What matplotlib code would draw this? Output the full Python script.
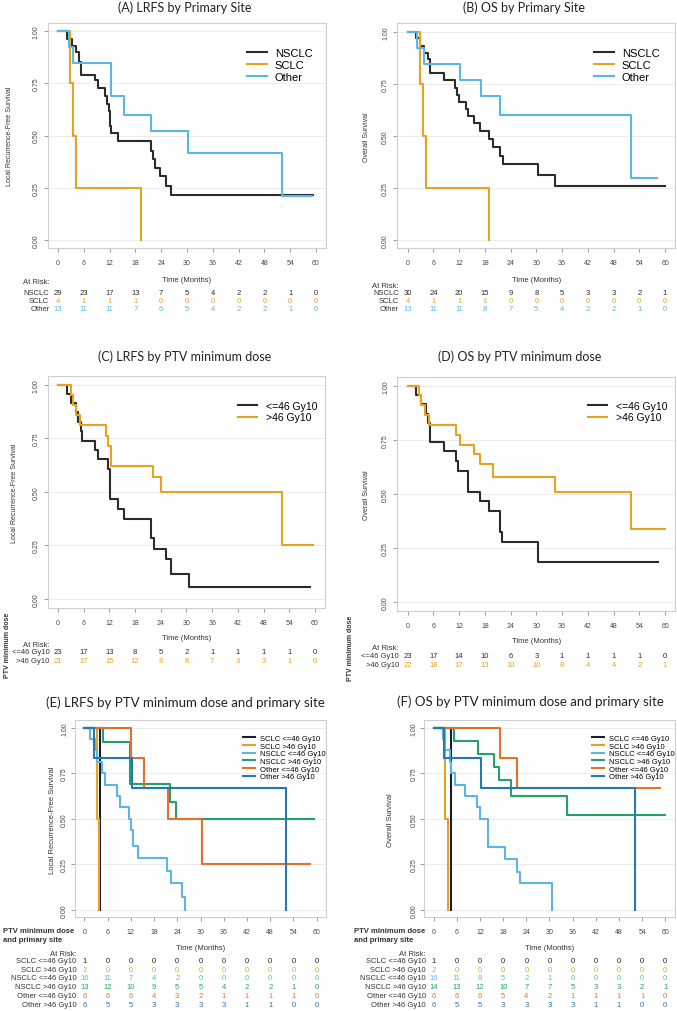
import matplotlib.pyplot as plt
import matplotlib.transforms as mtransforms

plt.rcParams['font.family'] = ['Liberation Sans', 'DejaVu Sans']

W, H = 677, 1012
fig = plt.figure(figsize=(W / 100, H / 100), dpi=100)
# pixel coordinates measured from the top-left corner of the figure
PX = mtransforms.Affine2D().scale(1.0 / W, -1.0 / H).translate(0, 1) + fig.transFigure

TIMES = [0, 6, 12, 18, 24, 30, 36, 42, 48, 54, 60]
YTICKS = [0, 0.25, 0.5, 0.75, 1.0]
YTICKLABELS = ['0.00', '0.25', '0.50', '0.75', '1.00']

C_BLACK = '#2b2b2b'
C_NAVY = '#1c1c30'
C_YEL = '#E9A21F'
C_LBLUE = '#5BB5E5'
C_GREEN = '#22A06E'
C_ORANGE = '#E2722A'
C_BLUE = '#2279B5'

# ---- (A) LRFS by primary site
a_nsclc_t = [0, 2.2, 3.3, 4.3, 4.9, 5.4, 8.5, 9.3, 10.9, 11.4, 11.8, 12.0, 12.4, 14.0,
             21.7, 22.1, 22.5, 23.8, 25.2, 26.2, 59.4]
a_nsclc_s = [1, 0.963, 0.93, 0.90, 0.85, 0.79, 0.764, 0.725, 0.69, 0.65, 0.615, 0.546, 0.51, 0.475,
             0.427, 0.387, 0.344, 0.304, 0.26, 0.215, 0.215]
a_sclc_t = [0, 2.9, 3.6, 4.3, 19.2]
a_sclc_s = [1, 0.75, 0.5, 0.25, 0.0]
a_other_t = [0, 2.6, 3.6, 12.3, 15.4, 21.7, 30.3, 52.2, 59.0]
a_other_s = [1, 0.923, 0.846, 0.69, 0.60, 0.52, 0.415, 0.21, 0.21]
a_risk_nsclc = [29, 23, 17, 13, 7, 5, 4, 2, 2, 1, 0]
a_risk_sclc = [4, 1, 1, 1, 0, 0, 0, 0, 0, 0, 0]
a_risk_other = [13, 11, 11, 7, 6, 5, 4, 2, 2, 1, 0]

# ---- (B) OS by primary site
b_nsclc_t = [0, 2.0, 2.8, 3.9, 4.7, 5.1, 8.4, 11.1, 11.5, 11.9, 13.7, 14.0, 15.4, 16.8,
             18.9, 20.0, 21.6, 22.2, 30.5, 34.4, 60.0]
b_nsclc_s = [1, 0.968, 0.933, 0.90, 0.869, 0.80, 0.768, 0.732, 0.697, 0.663, 0.628, 0.593, 0.56, 0.524,
             0.484, 0.445, 0.404, 0.364, 0.311, 0.26, 0.26]
b_sclc_t = [0, 2.8, 3.6, 4.3, 19.0]
b_sclc_s = [1, 0.75, 0.5, 0.25, 0.0]
b_other_t = [0, 2.2, 3.7, 12.3, 17.1, 21.6, 52.1, 58.2]
b_other_s = [1, 0.923, 0.846, 0.77, 0.69, 0.60, 0.30, 0.30]
b_risk_nsclc = [30, 24, 20, 15, 9, 8, 5, 3, 3, 2, 1]
b_risk_sclc = [4, 1, 1, 1, 0, 0, 0, 0, 0, 0, 0]
b_risk_other = [13, 11, 11, 8, 7, 5, 4, 2, 2, 1, 0]

# ---- (C) LRFS by PTV minimum dose
c_low_t = [0, 2.2, 3.1, 4.3, 4.7, 5.4, 5.6, 8.6, 9.4, 11.7, 12.1, 14.0, 15.4,
           21.8, 22.4, 25.3, 26.3, 30.5, 58.8]
c_low_s = [1, 0.957, 0.913, 0.871, 0.826, 0.783, 0.739, 0.697, 0.654, 0.607, 0.467, 0.421, 0.374,
           0.284, 0.234, 0.187, 0.117, 0.058, 0.058]
c_high_t = [0, 3.0, 3.5, 4.1, 5.1, 11.3, 11.7, 12.3, 22.2, 24.0, 52.4, 59.6]
c_high_s = [1, 0.952, 0.905, 0.857, 0.81, 0.762, 0.714, 0.619, 0.571, 0.50, 0.25, 0.25]
c_risk_low = [23, 17, 13, 8, 5, 2, 1, 1, 1, 1, 0]
c_risk_high = [21, 17, 15, 12, 8, 8, 7, 3, 3, 1, 0]

# ---- (D) OS by PTV minimum dose
d_low_t = [0, 2.0, 3.2, 4.3, 4.7, 5.3, 8.4, 11.3, 11.7, 14.0, 16.9, 18.9, 21.6, 22.1, 30.5, 58.4]
d_low_s = [1, 0.957, 0.915, 0.871, 0.826, 0.738, 0.696, 0.65, 0.607, 0.51, 0.467, 0.42,
           0.322, 0.279, 0.183, 0.183]
d_high_t = [0, 2.6, 3.2, 4.0, 4.9, 11.3, 12.3, 15.4, 16.9, 19.9, 34.4, 52.1, 60.0]
d_high_s = [1, 0.955, 0.909, 0.864, 0.818, 0.773, 0.727, 0.682, 0.636, 0.576, 0.507, 0.337, 0.337]
d_risk_low = [23, 17, 14, 10, 6, 3, 1, 1, 1, 1, 0]
d_risk_high = [22, 18, 17, 13, 10, 10, 8, 4, 4, 2, 1]

# ---- (E) LRFS by PTV minimum dose and primary site
e_sclc_low_t = [0, 4.05]
e_sclc_low_s = [1, 0.0]
e_sclc_high_t = [0, 3.2, 3.8]
e_sclc_high_s = [1, 0.5, 0.0]
e_nsclc_low_t = [0, 1.5, 2.75, 3.2, 4.5, 5.3, 8.35, 9.2, 11.6, 12.05, 12.66, 13.9, 21.3, 22.3, 25.1, 26.0]
e_nsclc_low_s = [1, 0.9375, 0.875, 0.8125, 0.75, 0.6875, 0.625, 0.5625, 0.5, 0.4375, 0.353, 0.283,
                 0.216, 0.148, 0.074, 0.0]
e_nsclc_high_t = [0, 4.9, 11.8, 22.1, 23.7, 59.3]
e_nsclc_high_s = [1, 0.923, 0.692, 0.59, 0.50, 0.50]
e_other_low_t = [0, 12.1, 15.4, 21.5, 30.3, 58.3]
e_other_low_s = [1, 0.833, 0.667, 0.5, 0.25, 0.25]
e_other_high_t = [0, 2.6, 12.2, 52.1]
e_other_high_s = [1, 0.833, 0.667, 0.0]
e_risk = [[1, 0, 0, 0, 0, 0, 0, 0, 0, 0, 0],
          [2, 0, 0, 0, 0, 0, 0, 0, 0, 0, 0],
          [16, 11, 7, 4, 2, 0, 0, 0, 0, 0, 0],
          [13, 12, 10, 9, 5, 5, 4, 2, 2, 1, 0],
          [6, 6, 6, 4, 3, 2, 1, 1, 1, 1, 0],
          [6, 5, 5, 3, 3, 3, 3, 1, 1, 0, 0]]

# ---- (F) OS by PTV minimum dose and primary site
f_sclc_low_t = [0, 4.6]
f_sclc_low_s = [1, 0.0]
f_sclc_high_t = [0, 3.0, 3.7]
f_sclc_high_s = [1, 0.5, 0.0]
f_nsclc_low_t = [0, 2.4, 3.0, 4.1, 4.6, 5.6, 8.2, 11.2, 11.9, 14.1, 18.6, 21.6, 22.3, 30.6]
f_nsclc_low_s = [1, 0.9375, 0.875, 0.8125, 0.75, 0.6875, 0.625, 0.5625, 0.5, 0.347, 0.279,
                 0.21, 0.148, 0.0]
f_nsclc_high_t = [0, 5.2, 11.5, 15.5, 17.0, 19.9, 34.5, 60.0]
f_nsclc_high_s = [1, 0.929, 0.857, 0.786, 0.714, 0.627, 0.523, 0.523]
f_other_low_t = [0, 17.1, 21.7, 58.5]
f_other_low_s = [1, 0.833, 0.667, 0.667]
f_other_high_t = [0, 2.6, 12.3, 52.2]
f_other_high_s = [1, 0.833, 0.667, 0.0]
f_risk = [[1, 0, 0, 0, 0, 0, 0, 0, 0, 0, 0],
          [2, 0, 0, 0, 0, 0, 0, 0, 0, 0, 0],
          [16, 11, 8, 5, 2, 1, 0, 0, 0, 0, 0],
          [14, 13, 12, 10, 7, 7, 5, 3, 3, 2, 1],
          [6, 6, 6, 5, 4, 2, 1, 1, 1, 1, 0],
          [6, 5, 5, 3, 3, 3, 3, 1, 1, 0, 0]]

site_names = ['NSCLC', 'SCLC', 'Other']
dose_names = ['<=46 Gy10', '>46 Gy10']
group_names = ['SCLC <=46 Gy10', 'SCLC >46 Gy10', 'NSCLC <=46 Gy10',
               'NSCLC >46 Gy10', 'Other <=46 Gy10', 'Other >46 Gy10']
site_cols = [C_BLACK, C_YEL, C_LBLUE]
dose_cols = [C_BLACK, C_YEL]
group_cols = [C_NAVY, C_YEL, C_LBLUE, C_GREEN, C_ORANGE, C_BLUE]


def km_panel(box, title, title_xy, title_size, ylabel, ylabel_x, ylabel_size,
             curves, names, colors, leg_xy, leg_size, leg_hl, leg_tp, leg_ls,
             risk, risk_y, time_y, atrisk_y, tab_size, tick_size, ypad=3):
    x0, x60, y1, y0 = box
    sx = (x60 - x0) / 60.0
    sy = y0 - y1
    left, right = x0 - 2.4 * sx, x60 + 2.4 * sx
    top, bottom = y1 - 0.04 * sy, y0 + 0.04 * sy
    ax = fig.add_axes([left / W, 1 - bottom / H, (right - left) / W, (bottom - top) / H])
    ax.set_xlim(-2.4, 62.4)
    ax.set_ylim(-0.04, 1.04)

    for yv in YTICKS:
        ax.axhline(yv, color='#ececec', lw=0.7, zorder=0)
    for (t, s), nm, c in zip(curves, names, colors):
        ax.step(t, s, where='post', color=c, lw=1.5, label=nm)

    ax.set_xticks(TIMES)
    ax.set_xticklabels([str(v) for v in TIMES])
    ax.set_yticks(YTICKS)
    ax.set_yticklabels(YTICKLABELS, rotation=90, va='center')
    ax.tick_params(axis='both', length=3, width=0.6, color='#8a8a8a',
                   labelsize=tick_size, labelcolor='#484848')
    ax.tick_params(axis='x', pad=5)
    ax.tick_params(axis='y', pad=ypad)
    for sp in ax.spines.values():
        sp.set_color('#cfcfcf')
        sp.set_linewidth(0.8)

    fig.text(title_xy[0], title_xy[1], title, transform=PX, ha='center', va='center',
             fontsize=title_size, family='Lato', color='#222222')
    fig.text(ylabel_x, (top + bottom) / 2, ylabel, transform=PX, rotation=90,
             ha='center', va='center', fontsize=ylabel_size, color='#333333')

    ax.legend(loc='center left', bbox_to_anchor=leg_xy, bbox_transform=PX,
              frameon=False, borderpad=0, borderaxespad=0, fontsize=leg_size,
              handlelength=leg_hl, handletextpad=leg_tp, labelspacing=leg_ls)

    tr = mtransforms.blended_transform_factory(ax.transData, PX)
    ax.text(0.5, time_y, 'Time (Months)', ha='center', va='center', fontsize=tab_size,
            color='#333333', transform=mtransforms.blended_transform_factory(ax.transAxes, PX))
    ax.text(-2.0, atrisk_y, 'At Risk:', transform=tr, ha='right', va='center',
            fontsize=tab_size, color='#333333')
    for (nm, counts, c), yy in zip(risk, risk_y):
        ax.text(-2.0, yy, nm, transform=tr, ha='right', va='center',
                fontsize=tab_size, color='#333333')
        for t, n in zip(TIMES, counts):
            ax.text(t, yy, str(n), transform=tr, ha='center', va='center',
                    fontsize=tab_size, color=c)
    return ax


# (A)
km_panel((58, 316, 32, 241), '(A) LRFS by Primary Site', (185, 8), 9,
         'Local Recurrence-Free Survival', 10, 5,
         [(a_nsclc_t, a_nsclc_s), (a_sclc_t, a_sclc_s), (a_other_t, a_other_s)],
         site_names, site_cols, (247, 66), 8, 1.8, 0.7, 0.15,
         list(zip(site_names, [a_risk_nsclc, a_risk_sclc, a_risk_other], site_cols)),
         [294, 302, 310], 281, 283, 5.5, 5)

# (B)
km_panel((407.7, 665, 32.7, 241), '(B) OS by Primary Site', (524, 8), 9,
         'Overall Survival', 367, 5,
         [(b_nsclc_t, b_nsclc_s), (b_sclc_t, b_sclc_s), (b_other_t, b_other_s)],
         site_names, site_cols, (594, 66), 8, 1.8, 0.7, 0.15,
         list(zip(site_names, [b_risk_nsclc, b_risk_sclc, b_risk_other], site_cols)),
         [294, 302, 310], 281, 287, 5.5, 5)

# (C)
km_panel((58, 315, 385.7, 600), '(C) LRFS by PTV minimum dose', (185, 357), 9,
         'Local Recurrence-Free Survival', 15, 5,
         [(c_low_t, c_low_s), (c_high_t, c_high_s)],
         dose_names, dose_cols, (238, 412.5), 7.5, 1.8, 0.9, 0.15,
         list(zip(dose_names, [c_risk_low, c_risk_high], dose_cols)),
         [653, 662], 639, 646, 5.5, 5)
fig.text(8, 645, 'PTV minimum dose', transform=PX, rotation=90, ha='center', va='center',
         fontsize=5, fontweight='bold', color='#333333')

# (D)
km_panel((407.7, 665, 386.7, 603), '(D) OS by PTV minimum dose', (520, 357), 9,
         'Overall Survival', 367, 5,
         [(d_low_t, d_low_s), (d_high_t, d_high_s)],
         dose_names, dose_cols, (588, 412.5), 7.5, 1.8, 0.9, 0.15,
         list(zip(dose_names, [d_risk_low, d_risk_high], dose_cols)),
         [657, 666], 642, 649, 5.5, 5)
fig.text(351, 648, 'PTV minimum dose', transform=PX, rotation=90, ha='center', va='center',
         fontsize=5, fontweight='bold', color='#333333')

# (E)
e_curves = [(e_sclc_low_t, e_sclc_low_s), (e_sclc_high_t, e_sclc_high_s),
            (e_nsclc_low_t, e_nsclc_low_s), (e_nsclc_high_t, e_nsclc_high_s),
            (e_other_low_t, e_other_low_s), (e_other_high_t, e_other_high_s)]
table_y = [962, 970.5, 979, 988, 997, 1005.5]
km_panel((84.3, 316.7, 728.7, 911), '(E) LRFS by PTV minimum dose and primary site', (185, 703), 9.5,
         'Local Recurrence-Free Survival', 53, 5.5,
         e_curves, group_names, group_cols, (243, 758.5), 5.5, 1.6, 0.65, 0.05,
         list(zip(group_names, e_risk, group_cols)),
         table_y, 949, 955, 5.5, 5, ypad=2)
fig.text(3, 936, 'PTV minimum dose\nand primary site', transform=PX, ha='left', va='center',
         fontsize=5.5, fontweight='bold', color='#333333', linespacing=1.4)

# (F)
f_curves = [(f_sclc_low_t, f_sclc_low_s), (f_sclc_high_t, f_sclc_high_s),
            (f_nsclc_low_t, f_nsclc_low_s), (f_nsclc_high_t, f_nsclc_high_s),
            (f_other_low_t, f_other_low_s), (f_other_high_t, f_other_high_s)]
km_panel((433.7, 665.3, 728.7, 911), '(F) OS by PTV minimum dose and primary site', (530, 702), 9.5,
         'Overall Survival', 391, 5.5,
         f_curves, group_names, group_cols, (592, 758.5), 5.5, 1.6, 0.65, 0.05,
         list(zip(group_names, f_risk, group_cols)),
         table_y, 949, 955, 5.5, 5, ypad=2)
fig.text(354, 936, 'PTV minimum dose\nand primary site', transform=PX, ha='left', va='center',
         fontsize=5.5, fontweight='bold', color='#333333', linespacing=1.4)

fig.savefig('out.png', dpi=100, facecolor='white')
